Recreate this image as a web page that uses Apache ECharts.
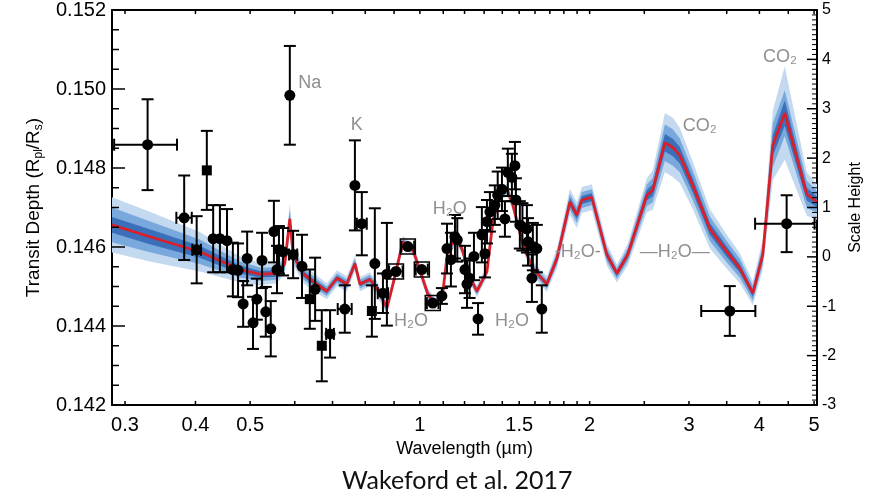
<!DOCTYPE html>
<html style="height: 100%">

<head>
  <meta charset="utf-8">
</head>

<body style="height: 100%; margin: 0; background: #fff">
  <div id="container" style="width: 882px; height: 497px"></div>
  <script type="text/javascript" src="https://cdn.jsdelivr.net/npm/echarts@6/dist/echarts.min.js"></script>
  <script type="text/javascript">
  var dom = document.getElementById("container");
  var myChart = echarts.init(dom);

  // retrieved model spectrum: wavelength (micron) and transit depth (Rp/Rs)
  var modelWl = [0.2845, 0.332, 0.407, 0.480, 0.521, 0.558, 0.576, 0.588, 0.596, 0.620,
    0.646, 0.684, 0.713, 0.742, 0.767, 0.783, 0.815, 0.839, 0.874, 0.896,
    0.933, 0.972, 1.033, 1.063, 1.099, 1.121, 1.163, 1.187, 1.237, 1.262,
    1.315, 1.347, 1.386, 1.427, 1.462, 1.523, 1.586, 1.679, 1.750, 1.845,
    1.898, 1.937, 2.018, 2.145, 2.235, 2.337, 2.526, 2.588, 2.719, 2.809,
    2.890, 3.047, 3.267, 3.501, 3.693, 3.894, 4.056, 4.224, 4.436, 4.853, 5.06];
  var modelDepth = [0.14656, 0.14626, 0.14588, 0.14543, 0.14531, 0.14533, 0.14558, 0.14671, 0.14581, 0.14533,
    0.14513, 0.14488, 0.14521, 0.14506, 0.14558, 0.14506, 0.14518, 0.14496, 0.14446, 0.14506,
    0.14613, 0.14593, 0.14481, 0.14456, 0.14488, 0.14596, 0.14621, 0.14596, 0.14513, 0.14488,
    0.14538, 0.14664, 0.14731, 0.14746, 0.14706, 0.14606, 0.14546, 0.14506, 0.14571, 0.14714,
    0.14681, 0.14719, 0.14726, 0.14581, 0.14533, 0.14581, 0.14731, 0.14744, 0.14864, 0.14852,
    0.14832, 0.14756, 0.14646, 0.14588, 0.14546, 0.14483, 0.14581, 0.14857, 0.14939, 0.14734, 0.14714];

  // half widths of the 1, 2 and 3 sigma bands, in units of 1e-4
  var band1 = [2.0, 1.9, 1.5, 1.0, 0.8, 0.8, 0.8, 1.1, 0.8, 0.7,
    0.7, 0.6, 0.6, 0.6, 0.6, 0.5, 0.5, 0.5, 0.5, 0.5,
    0.5, 0.5, 0.5, 0.5, 0.5, 0.5, 0.5, 0.5, 0.5, 0.5,
    0.5, 0.5, 0.5, 0.5, 0.5, 0.5, 0.5, 0.6, 0.8, 1.0,
    1.0, 1.0, 1.0, 0.8, 0.7, 0.8, 1.3, 1.5, 2.2, 2.2,
    2.1, 1.8, 1.5, 1.3, 1.1, 0.9, 1.1, 2.6, 3.2, 1.6, 1.3];
  var band2 = [4.4, 3.9, 3.1, 2.0, 1.7, 1.6, 1.6, 2.4, 1.6, 1.4,
    1.4, 1.2, 1.2, 1.2, 1.2, 1.1, 1.1, 1.1, 1.1, 0.9,
    0.9, 0.9, 0.9, 0.9, 0.9, 0.9, 0.9, 0.9, 0.9, 0.9,
    0.9, 0.9, 0.9, 0.9, 0.9, 0.9, 1.1, 1.2, 1.6, 2.0,
    2.0, 2.0, 2.0, 1.7, 1.4, 1.7, 2.7, 3.1, 4.6, 4.6,
    4.3, 3.7, 3.1, 2.7, 2.4, 1.9, 2.4, 5.5, 5.8, 3.4, 2.8];
  var band3 = [7.0, 6.3, 5.0, 3.3, 2.8, 2.5, 2.5, 4.0, 2.5, 2.3,
    2.3, 2.0, 2.0, 2.0, 2.0, 1.8, 1.8, 1.8, 1.8, 1.5,
    1.5, 1.5, 1.5, 1.5, 1.5, 1.5, 1.5, 1.5, 1.5, 1.5,
    1.5, 1.5, 1.5, 1.5, 1.5, 1.5, 1.8, 2.0, 2.5, 3.3,
    3.3, 3.3, 3.3, 2.8, 2.3, 2.8, 4.3, 5.0, 7.5, 7.5,
    7.0, 6.0, 5.0, 4.3, 3.8, 3.0, 3.8, 8.8, 11.8, 5.5, 4.5];

  // observed transmission spectrum
  var obsWl = [0.329, 0.382, 0.402, 0.419, 0.430, 0.442, 0.455, 0.466, 0.476, 0.486,
    0.494, 0.506, 0.514, 0.525, 0.533, 0.544, 0.551, 0.558, 0.5625, 0.572,
    0.588, 0.596, 0.618, 0.638, 0.652, 0.670, 0.693, 0.736, 0.767, 0.789,
    0.822, 0.832, 0.860, 0.874, 0.907, 0.952, 1.008, 1.054, 1.094, 1.117,
    1.135, 1.154, 1.165, 1.202, 1.212, 1.225, 1.247, 1.268, 1.288, 1.304,
    1.315, 1.331, 1.358, 1.374, 1.398, 1.415, 1.432, 1.456, 1.474, 1.480,
    1.504, 1.520, 1.548, 1.555, 1.586, 1.580, 1.612, 1.645, 3.544, 4.47];
  var obsDepth = [0.14859, 0.14674, 0.14593, 0.14794, 0.14621, 0.14621, 0.14616, 0.14543, 0.14541, 0.14456,
    0.14571, 0.14408, 0.14468, 0.14566, 0.14436, 0.14393, 0.14639, 0.14543, 0.14593, 0.14588,
    0.14984, 0.14581, 0.14551, 0.14468, 0.14493, 0.14350, 0.14380, 0.14443, 0.14756, 0.14659,
    0.14438, 0.14558, 0.14483, 0.14531, 0.14538, 0.14601, 0.14543, 0.14458, 0.14476, 0.14596,
    0.14568, 0.14626, 0.14618, 0.14543, 0.14506, 0.14521, 0.14576, 0.14418, 0.14631, 0.14583,
    0.14664, 0.14689, 0.14706, 0.14731, 0.14746, 0.14671, 0.14789, 0.14776, 0.14806, 0.14719,
    0.14656, 0.14651, 0.14646, 0.14613, 0.14601, 0.14521, 0.14596, 0.14443, 0.14438, 0.14659];
  var obsErr = [0.00115, 0.00107, 0.00085, 0.00100, 0.00085, 0.00085, 0.00080, 0.00068, 0.00068, 0.00058,
    0.00068, 0.00066, 0.00052, 0.00070, 0.00063, 0.00070, 0.00078, 0.00060, 0.00060, 0.00060,
    0.00125, 0.00060, 0.00080, 0.00075, 0.00080, 0.00090, 0.00060, 0.00060, 0.00114, 0.00080,
    0.00065, 0.00140, 0.00050, 0.00130, 0.00010, 0.00010, 0.00010, 0.00010, 0.00020, 0.00063,
    0.00068, 0.00055, 0.00055, 0.00060, 0.00060, 0.00050, 0.00060, 0.00040, 0.00070, 0.00060,
    0.00055, 0.00050, 0.00050, 0.00060, 0.00055, 0.00045, 0.00060, 0.00060, 0.00060, 0.00055,
    0.00060, 0.00060, 0.00060, 0.00060, 0.00060, 0.00060, 0.00060, 0.00060, 0.00063, 0.00072];
  var obsXErr = [0.042, 0.012, 0.007, 0, 0, 0, 0, 0, 0, 0,
    0, 0, 0, 0, 0, 0, 0, 0, 0, 0,
    0, 0.010, 0, 0, 0, 0, 0.011, 0.021, 0, 0.016,
    0, 0, 0.018, 0, 0.025, 0.025, 0.025, 0.025, 0, 0,
    0, 0, 0, 0, 0, 0, 0, 0, 0, 0,
    0, 0, 0, 0, 0, 0, 0, 0, 0, 0,
    0, 0, 0, 0, 0, 0, 0, 0, 0.39, 0.54];
  // c = dot, s = square, o = dot in open box
  var obsMarker = ['c', 'c', 'c', 's', 'c', 'c', 'c', 'c', 'c', 'c',
    'c', 'c', 'c', 'c', 'c', 'c', 'c', 'c', 'c', 'c',
    'c', 'c', 'c', 's', 'c', 's', 'c', 'c', 'c', 'c',
    's', 'c', 'c', 'c', 'o', 'o', 'o', 'o', 'c', 'c',
    'c', 'c', 'c', 'c', 'c', 'c', 'c', 'c', 'c', 'c',
    'c', 'c', 'c', 'c', 'c', 'c', 'c', 'c', 'c', 'c',
    'c', 'c', 'c', 'c', 'c', 'c', 'c', 'c', 'c', 'c'];

  // molecule labels
  var noteText = ['Na', 'K', 'H\u2082O', 'H\u2082O', 'H\u2082O', '-H\u2082O-', '\u2014H\u2082O\u2014', 'CO\u2082', 'CO\u2082'];
  var noteWl = [0.638, 0.773, 1.130, 0.964, 1.456, 1.906, 2.832, 3.136, 4.35];
  var noteDepth = [0.15014, 0.14909, 0.14696, 0.14413, 0.14413, 0.14588, 0.14588, 0.14907, 0.15082];

  // axis ticks
  var xTickValues = [0.3, 0.4, 0.5, 0.6, 0.7, 0.8, 0.9, 1.0, 1.1, 1.2, 1.3, 1.4, 1.5, 1.6, 1.7, 1.8, 1.9,
    2.0, 2.5, 3.0, 3.5, 4.0, 4.5, 5.0];
  var xLabelValues = [0.3, 0.4, 0.5, 1, 1.5, 2, 3, 4, 5];
  var depthTicks = [0.142, 0.144, 0.146, 0.148, 0.150, 0.152];
  var heightTicks = [-3, -2, -1, 0, 1, 2, 3, 4, 5];

  var log = Math.log10;
  var font = "'Liberation Sans', Arial, sans-serif";

  function bandSeries(widths, color) {
    return {
      type: 'custom',
      clip: true,
      silent: true,
      z: 1,
      data: [[log(modelWl[0]), modelDepth[0]]],
      renderItem: function (params, api) {
        var upper = [], lower = [];
        for (var i = 0; i < modelWl.length; i++) {
          upper.push(api.coord([log(modelWl[i]), modelDepth[i] + widths[i] * 1e-4]));
          lower.unshift(api.coord([log(modelWl[i]), modelDepth[i] - widths[i] * 1e-4]));
        }
        return {
          type: 'polygon',
          shape: { points: upper.concat(lower) },
          style: { fill: color }
        };
      }
    };
  }

  var pointData = obsWl.map(function (w, i) {
    var m = obsMarker[i] === 's' ? 1 : (obsMarker[i] === 'o' ? 2 : 0);
    return [log(w), obsDepth[i], obsErr[i], log(w - obsXErr[i]), log(w + obsXErr[i]), m];
  });

  function renderPoint(params, api) {
    var x = api.value(0), y = api.value(1), e = api.value(2);
    var c = api.coord([x, y]);
    var yTop = api.coord([x, y + e])[1];
    var yBot = api.coord([x, y - e])[1];
    var st = { stroke: '#000', lineWidth: 2 };
    var kids = [];
    if (yBot - yTop > 12) {
      kids.push({ type: 'line', shape: { x1: c[0], y1: yTop, x2: c[0], y2: yBot }, style: st });
      kids.push({ type: 'line', shape: { x1: c[0] - 6, y1: yTop, x2: c[0] + 6, y2: yTop }, style: st });
      kids.push({ type: 'line', shape: { x1: c[0] - 6, y1: yBot, x2: c[0] + 6, y2: yBot }, style: st });
    }
    var xl = api.value(3), xr = api.value(4);
    if (xr > xl) {
      var pl = api.coord([xl, y])[0], pr = api.coord([xr, y])[0];
      kids.push({ type: 'line', shape: { x1: pl, y1: c[1], x2: pr, y2: c[1] }, style: st });
      kids.push({ type: 'line', shape: { x1: pl, y1: c[1] - 6, x2: pl, y2: c[1] + 6 }, style: st });
      kids.push({ type: 'line', shape: { x1: pr, y1: c[1] - 6, x2: pr, y2: c[1] + 6 }, style: st });
    }
    var m = api.value(5);
    if (m === 1) {
      kids.push({ type: 'rect', shape: { x: c[0] - 5, y: c[1] - 5, width: 10, height: 10 }, style: { fill: '#000' } });
    } else {
      kids.push({ type: 'circle', shape: { cx: c[0], cy: c[1], r: 5.5 }, style: { fill: '#000' } });
    }
    if (m === 2) {
      kids.push({ type: 'rect', shape: { x: c[0] - 7.5, y: c[1] - 7.5, width: 15, height: 15 },
        style: { fill: 'none', stroke: '#000', lineWidth: 1.5 } });
    }
    return { type: 'group', children: kids };
  }

  // tick marks of the frame, placed through the axes' own scales
  function tickLine(kids, x1, y1, x2, y2, w) {
    kids.push({ type: 'line', shape: { x1: x1, y1: y1, x2: x2, y2: y2 }, style: { stroke: '#000', lineWidth: w } });
  }

  function renderLeftTicks(params, api) {
    var left = api.coord([log(0.2845), depthTicks[0]])[0];
    var bottom = api.coord([0, depthTicks[0]])[1];
    var top = api.coord([0, depthTicks[depthTicks.length - 1]])[1];
    var kids = [];
    xTickValues.forEach(function (t) {
      var px = api.coord([log(t), depthTicks[0]])[0];
      tickLine(kids, px, bottom, px, bottom - 4, 1.5);
      tickLine(kids, px, top, px, top + 4, 1.5);
    });
    for (var i = 0; i < depthTicks.length; i++) {
      var py = api.coord([0, depthTicks[i]])[1];
      tickLine(kids, left, py, left + 13, py, 1.5);
      if (i < depthTicks.length - 1) {
        var step = (depthTicks[i + 1] - depthTicks[i]) / 4;
        for (var k = 1; k < 4; k++) {
          var pm = api.coord([0, depthTicks[i] + k * step])[1];
          tickLine(kids, left, pm, left + 7, pm, 1.5);
        }
      }
    }
    return { type: 'group', children: kids };
  }

  function renderRightTicks(params, api) {
    var right = api.coord([log(5.06), 0])[0];
    var kids = [];
    for (var i = 0; i < heightTicks.length; i++) {
      var py = api.coord([0, heightTicks[i]])[1];
      tickLine(kids, right, py, right - 10, py, 1.5);
      if (i < heightTicks.length - 1) {
        var step = (heightTicks[i + 1] - heightTicks[i]) / 10;
        for (var k = 1; k < 10; k++) {
          var pm = api.coord([0, heightTicks[i] + k * step])[1];
          tickLine(kids, right, pm, right - 5, pm, 1);
        }
      }
    }
    return { type: 'group', children: kids };
  }

  function renderNote(params, api) {
    var c = api.coord([api.value(0), api.value(1)]);
    return {
      type: 'text',
      x: c[0],
      y: c[1],
      style: {
        text: noteText[params.dataIndex],
        fill: '#8f8f8f',
        fontSize: 18,
        fontFamily: font,
        align: 'center',
        verticalAlign: 'middle'
      }
    };
  }

  var xAxisBase = {
    type: 'value',
    min: log(0.2845),
    max: log(5.06),
    splitLine: { show: false },
    axisLine: { show: true, onZero: false, lineStyle: { color: '#000', width: 2 } },
    axisTick: { show: false }
  };

  var option = {
    animation: false,
    textStyle: { fontFamily: font },
    title: {
      text: 'Wakeford et al. 2017',
      left: 342,
      top: 468,
      padding: 0,
      textStyle: { fontFamily: "Lato, 'Open Sans', sans-serif", fontSize: 25, fontWeight: 'normal', color: '#111' }
    },
    grid: { left: 112, right: 65, top: 6, bottom: 92 },
    xAxis: [
      Object.assign({}, xAxisBase, {
        position: 'bottom',
        name: 'Wavelength (\u00b5m)',
        nameLocation: 'middle',
        nameGap: 28,
        nameTextStyle: { fontSize: 18, color: '#000', fontFamily: font },
        axisLabel: {
          customValues: xLabelValues.map(log),
          fontSize: 20,
          color: '#000',
          fontFamily: font,
          margin: 10,
          formatter: function (v) {
            return String(parseFloat(Math.pow(10, v).toFixed(2)));
          }
        }
      }),
      Object.assign({}, xAxisBase, {
        position: 'top',
        axisLabel: { show: false }
      })
    ],
    yAxis: [
      {
        type: 'value',
        min: 0.142,
        max: 0.152,
        interval: 0.002,
        position: 'left',
        splitLine: { show: false },
        axisLine: { show: true, onZero: false, lineStyle: { color: '#000', width: 2 } },
        axisTick: { show: false },
        minorTick: { show: false },
        axisLabel: {
          fontSize: 20, color: '#000', margin: 6, fontFamily: font,
          formatter: function (v) { return v.toFixed(3); }
        },
        name: '{n|Transit Depth (R}{s|pl}{n|/R}{s|s}{n|)}',
        nameLocation: 'middle',
        nameRotate: 90,
        nameGap: 66,
        nameTextStyle: {
          rich: {
            n: { fontSize: 19, color: '#000', fontFamily: font, lineHeight: 22 },
            s: { fontSize: 12, color: '#000', fontFamily: font, lineHeight: 22, verticalAlign: 'bottom', padding: [8, 0, 0, 0] }
          }
        }
      },
      {
        type: 'value',
        min: -3,
        max: 5,
        interval: 1,
        position: 'right',
        splitLine: { show: false },
        axisLine: { show: true, onZero: false, lineStyle: { color: '#000', width: 2 } },
        axisTick: { show: false },
        minorTick: { show: false },
        axisLabel: { fontSize: 16, color: '#000', margin: 5, fontFamily: font },
        name: 'Scale Height',
        nameLocation: 'middle',
        nameRotate: 90,
        nameGap: 26,
        nameTextStyle: { fontSize: 16, color: '#000', fontFamily: font }
      }
    ],
    series: [
      bandSeries(band3, '#c3d9ef'),
      bandSeries(band2, '#79a9dc'),
      bandSeries(band1, '#3c6fba'),
      {
        name: 'model',
        type: 'line',
        z: 2,
        silent: true,
        showSymbol: false,
        data: modelWl.map(function (w, i) { return [log(w), modelDepth[i]]; }),
        lineStyle: { color: '#d9202a', width: 2.8 }
      },
      {
        name: 'depthTicks',
        type: 'custom',
        z: 10,
        silent: true,
        yAxisIndex: 0,
        data: [[0, 0.147]],
        renderItem: renderLeftTicks
      },
      {
        name: 'heightTicks',
        type: 'custom',
        z: 10,
        silent: true,
        yAxisIndex: 1,
        data: [[0, 1]],
        renderItem: renderRightTicks
      },
      {
        name: 'data',
        type: 'custom',
        z: 3,
        silent: true,
        data: pointData,
        renderItem: renderPoint
      },
      {
        name: 'labels',
        type: 'custom',
        z: 4,
        silent: true,
        data: noteWl.map(function (w, i) { return [log(w), noteDepth[i]]; }),
        renderItem: renderNote
      }
    ]
  };

  myChart.setOption(option);
  </script>
</body>

</html>
